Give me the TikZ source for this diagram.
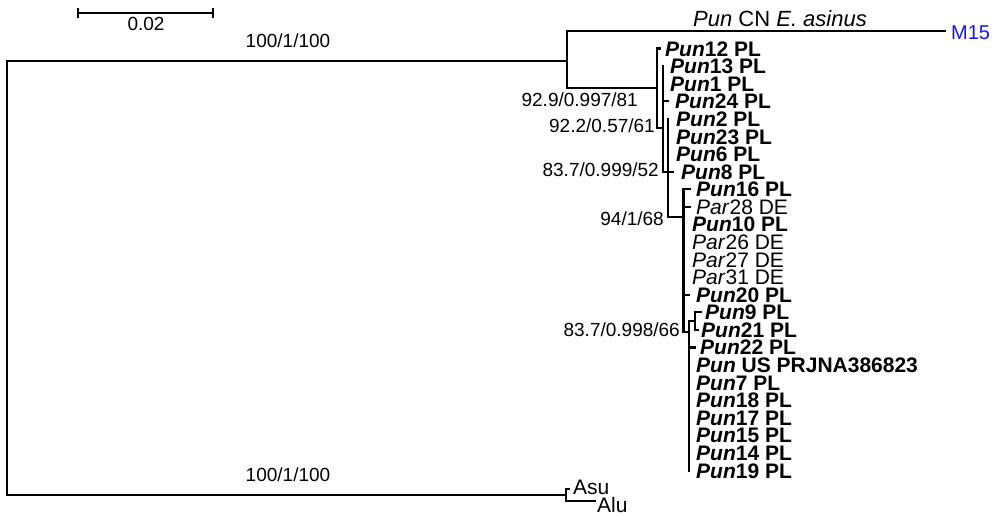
\documentclass[tikz,border=0pt]{standalone}
\usepackage{fontspec}
\setmainfont{Liberation Sans}
\definecolor{mblue}{RGB}{20,20,240}
\newcommand{\punlab}[1]{\textit{Pun}#1 PL}
\newcommand{\parlab}[1]{\textit{Par}#1 DE}
\begin{document}
\begin{tikzpicture}[x=1pt,y=-1pt,
  br/.style={line width=2.2pt,line cap=rect},
  leaflab/.style={anchor=base west,inner sep=0pt,font=\fontsize{21}{21}\selectfont\bfseries},
  parleaf/.style={anchor=base west,inner sep=0pt,font=\fontsize{21}{21}\selectfont},
  nodelab/.style={anchor=base east,inner sep=0pt,font=\fontsize{19}{19}\selectfont},
  midlab/.style={anchor=base,inner sep=0pt,font=\fontsize{19}{19}\selectfont}]
\useasboundingbox (0,0) rectangle (995,516);
% ---------- coordinates of the tree
\coordinate (rT) at (7,61);
\coordinate (rB) at (7,495);
\coordinate (aT) at (567,31);
\coordinate (aM) at (567,61);
\coordinate (aB) at (567,88);
\coordinate (cnE) at (945,31);
\coordinate (bT) at (657,48.58);
\coordinate (bM) at (657,88);
\coordinate (bB) at (657,128);
\coordinate (cT) at (663,66.16);
\coordinate (cM) at (663,128);
\coordinate (cB) at (663,171.64);
\coordinate (dT) at (668,118.9);
\coordinate (dM) at (668,171.64);
\coordinate (dB) at (668,217);
\coordinate (eT) at (683.5,189.22);
\coordinate (eM) at (683.5,217);
\coordinate (eB) at (683.5,332);
\coordinate (fT) at (689,332);
\coordinate (fG) at (689,321);
\coordinate (fB) at (689,470.5);
\coordinate (gT) at (695,312.28);
\coordinate (gM) at (695,321);
\coordinate (gB) at (695,329.86);
\coordinate (zM) at (566,495);
\coordinate (zT) at (566,489);
\coordinate (zB) at (566,501);
% ---------- branches
\draw[br] (aM) -- (rT) -- (rB) -- (zM);
\draw[br] (cnE) -- (aT) -- (aB) -- (bM);
\draw[br] (bT) -- (bB) -- (cM);
\draw[br] (cT) -- (cB) -- (dM);
\draw[br] (dT) -- (dB) -- (eM);
\draw[br] (eT) -- (eB) -- (fT);
\draw[br] (fG) -- (fB);
\draw[br] (fG) -- (gM);
\draw[br] (gT) -- (gB);
\draw[br] (zT) -- (zB);
% ---------- leaf ticks and labels
\coordinate (t1) at (660,48.58);
\draw[br] (bT) -- (t1);
\node[leaflab] (l1) at (665,56.1) {\punlab{12}};
\node[leaflab] (l2) at (670,73.7) {\punlab{13}};
\node[leaflab] (l3) at (670,91.2) {\punlab{1}};
\coordinate (c4) at (663,101.32);
\coordinate (t4) at (668,101.32);
\draw[br] (c4) -- (t4);
\node[leaflab] (l4) at (675,108.8) {\punlab{24}};
\node[leaflab] (l5) at (676,126.4) {\punlab{2}};
\node[leaflab] (l6) at (676,144.0) {\punlab{23}};
\node[leaflab] (l7) at (676,161.6) {\punlab{6}};
\coordinate (t8) at (673,171.64);
\draw[br] (dM) -- (t8);
\node[leaflab] (l8) at (681,179.1) {\punlab{8}};
\coordinate (t9) at (690,189.22);
\draw[br] (eT) -- (t9);
\node[leaflab] (l9) at (696,196.7) {\punlab{16}};
\coordinate (e10) at (683.5,206.8);
\coordinate (t10) at (690,206.8);
\draw[br] (e10) -- (t10);
\node[parleaf] (l10) at (696,214.3) {\parlab{28}};
\node[leaflab] (l11) at (692,231.9) {\punlab{10}};
\node[parleaf] (l12) at (692,249.5) {\parlab{26}};
\node[parleaf] (l13) at (692,267.0) {\parlab{27}};
\node[parleaf] (l14) at (692,284.6) {\parlab{31}};
\coordinate (e15) at (683.5,294.7);
\coordinate (t15) at (689,294.7);
\draw[br] (e15) -- (t15);
\node[leaflab] (l15) at (696,302.2) {\punlab{20}};
\coordinate (t16) at (701,312.28);
\draw[br] (gT) -- (t16);
\node[leaflab] (l16) at (705,319.8) {\punlab{9}};
\coordinate (t17) at (698,329.86);
\draw[br] (gB) -- (t17);
\node[leaflab] (l17) at (701,337.4) {\punlab{21}};
\coordinate (f18) at (689,347.44);
\coordinate (t18) at (695,347.44);
\draw[br] (f18) -- (t18);
\node[leaflab] (l18) at (700,354.9) {\punlab{22}};
\node[leaflab] (l19) at (696,372.5) {\textit{Pun} US PRJNA386823};
\node[leaflab] (l20) at (696,390.1) {\punlab{7}};
\node[leaflab] (l21) at (696,407.7) {\punlab{18}};
\node[leaflab] (l22) at (696,425.3) {\punlab{17}};
\node[leaflab] (l23) at (696,442.8) {\punlab{15}};
\node[leaflab] (l24) at (696,460.4) {\punlab{14}};
\node[leaflab] (l25) at (696,478.0) {\punlab{19}};
% outgroup
\coordinate (tz1) at (569,489);
\coordinate (tz2) at (595,501);
\draw[br] (zT) -- (tz1);
\draw[br] (zB) -- (tz2);
\node[parleaf] (asu) at (573,494.5) {Asu};
\node[parleaf] (alu) at (597,512.5) {Alu};
% top tip
\node[parleaf,anchor=base west,font=\fontsize{22}{22}\selectfont] (cn) at (693,27) {\textit{Pun} CN \textit{E. asinus}};
\node[parleaf,anchor=west,text=mblue,font=\fontsize{20}{20}\selectfont] (m15) at (951,33) {M15};
% ---------- support values
\node[midlab] (s1) at (288,48) {100/1/100};
\node[midlab] (s2) at (288,481) {100/1/100};
\node[nodelab] (s3) at (638,106.5) {92.9/0.997/81};
\node[nodelab] (s4) at (655,132.5) {92.2/0.57/61};
\node[nodelab] (s5) at (659,176.5) {83.7/0.999/52};
\node[nodelab] (s6) at (664,225.5) {94/1/68};
\node[nodelab] (s7) at (680,336.5) {83.7/0.998/66};
% ---------- scale bar
\coordinate (sbL) at (78,13);
\coordinate (sbR) at (213,13);
\draw[br] (sbL) -- (sbR);
\draw[line width=2.2pt] ([yshift=-5]sbL) -- ([yshift=5]sbL);
\draw[line width=2.2pt] ([yshift=-5]sbR) -- ([yshift=5]sbR);
\node[midlab] (sb) at (146,31) {0.02};
\end{tikzpicture}
\end{document}
